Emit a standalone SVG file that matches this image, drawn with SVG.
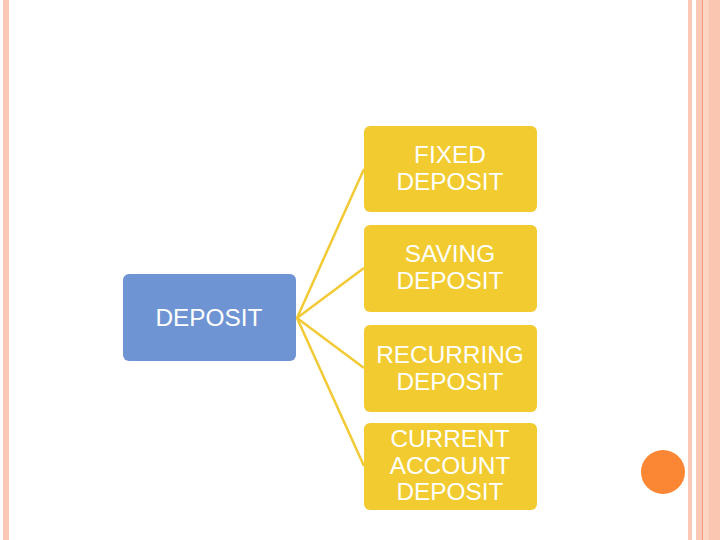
<svg xmlns="http://www.w3.org/2000/svg" width="720" height="540" viewBox="0 0 720 540">
<style>
.t{font-family:"Liberation Sans",Arial,sans-serif;font-size:24.4px;fill:#ffffff;text-anchor:middle}
.y{fill:#f2cb30}
.c{stroke:#f2ca35;stroke-width:2.5;fill:none}
</style>
<rect width="720" height="540" fill="#ffffff"/>
<g id="border">
<rect x="3" y="0" width="6" height="540" fill="#fac8b4"/>
<rect x="688" y="0" width="4" height="540" fill="#fac8b4"/>
<rect x="696" y="0" width="6" height="540" fill="#fac8b4"/>
<rect x="702" y="0" width="1.2" height="540" fill="#ee9a72"/>
<rect x="703.2" y="0" width="5" height="540" fill="#fdd3c2"/>
<rect x="708.2" y="0" width="11.8" height="540" fill="#fbc6b1"/>
<circle cx="663" cy="472" r="22" fill="#fb8734"/>
</g>
<g id="connectors">
<line class="c" x1="297" y1="318" x2="364" y2="169"/>
<line class="c" x1="297" y1="318" x2="364" y2="268"/>
<line class="c" x1="297" y1="318" x2="364" y2="368"/>
<line class="c" x1="297" y1="318" x2="364" y2="466"/>
</g>
<g id="deposit">
<rect x="123" y="274" width="173" height="87" rx="6" fill="#6f94d4"/>
<text class="t" x="209" y="326">DEPOSIT</text>
</g>
<g id="fixed">
<rect class="y" x="364" y="126" width="173" height="86" rx="6"/>
<text class="t" x="450" y="163">FIXED</text>
<text class="t" x="450" y="190">DEPOSIT</text>
</g>
<g id="saving">
<rect class="y" x="364" y="225" width="173" height="87" rx="6"/>
<text class="t" x="450" y="262">SAVING</text>
<text class="t" x="450" y="289">DEPOSIT</text>
</g>
<g id="recurring">
<rect class="y" x="364" y="325" width="173" height="87" rx="6"/>
<text class="t" x="450" y="363">RECURRING</text>
<text class="t" x="450" y="390">DEPOSIT</text>
</g>
<g id="current">
<rect class="y" x="364" y="423" width="173" height="87" rx="6"/>
<text class="t" x="450" y="447">CURRENT</text>
<text class="t" x="450" y="474">ACCOUNT</text>
<text class="t" x="450" y="500">DEPOSIT</text>
</g>
</svg>
